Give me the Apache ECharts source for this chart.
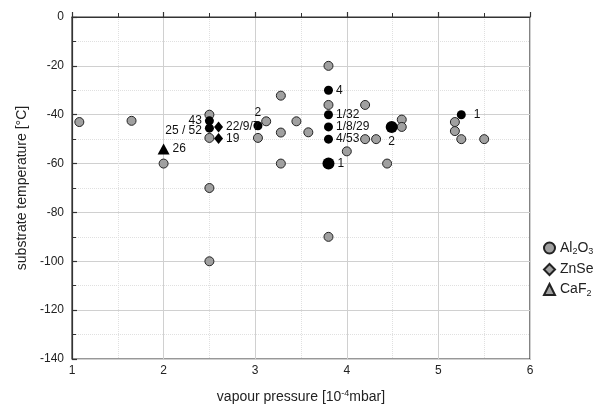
<!DOCTYPE html>
<html><head><meta charset="utf-8">
<script src="https://cdn.jsdelivr.net/npm/echarts@6/dist/echarts.min.js"></script>
<style>html,body{margin:0;padding:0;background:#fff}#c{width:600px;height:412px}</style>
</head><body><div id="c"></div>
<script>
// Al2O3 (grey circles)
var al2o3X = [1.08,1.65,2.0,2.5,2.5,2.5,2.5,3.03,3.12,3.28,3.28,3.28,3.45,3.58,3.8,3.8,3.8,4.2,4.2,4.32,4.0,4.44,4.6,4.6,5.18,5.18,5.25,5.5];
var al2o3Y = [-43,-42.5,-60,-40,-49.5,-70,-100,-49.5,-42.7,-32.2,-47.3,-60,-42.7,-47.2,-20,-36,-90,-36,-50,-50,-55,-60,-42,-45,-43,-46.7,-50,-50];
// black circles (numbered)
var blkX = [2.5,2.5,3.03,3.8,3.8,3.8,3.8,5.25];
var blkY = [-42.5,-45.5,-44.5,-30,-40,-45,-50,-40];
var blkLbl = ['43','25 / 52','2','4','1/32','1/8/29','4/53','1'];
var blkPos = ['left','left','top','right','right','right','right','right'];
// large black circles
var bigX = [3.8,4.49];
var bigY = [-60,-45];
var bigLbl = ['1','2'];
var bigPos = ['right','bottom'];
// black diamonds
var diaX = [2.6,2.6];
var diaY = [-45,-49.7];
var diaLbl = ['22/9/7','19'];
// black triangle
var triX = [2.0];
var triY = [-54];
var triLbl = ['26'];

var xTicks = [1,2,3,4,5,6];
var yMin = -140, yMax = 0;

function pts(xs, ys, lbls, poss){
  return xs.map(function(x,i){
    var d = {value:[x, ys[i]]};
    if (lbls) {
      var p = poss ? poss[i] : 'right';
      d.label = {show:true, formatter:lbls[i], position:p};
      if (lbls[i] === '1' && x > 5) d.label.distance = 8;
      if (lbls[i] === '25 / 52') d.label.offset = [0, 3];
    }
    return d;
  });
}
var font = 'Liberation Sans, Arial, sans-serif';
var lblStyle = {color:'#111', fontSize:12, fontFamily:font, distance:3};
var grey = {color:'#a0a0a0', borderColor:'#222', borderWidth:1, opacity:1};
var blackS = {color:'#000', opacity:1};
var chart = echarts.init(document.getElementById('c'));
chart.setOption({
  animation:false,
  textStyle:{fontFamily:font},
  grid:{left:72, right:70, top:17, bottom:53, show:true, borderColor:'#333', borderWidth:1.2},
  legend:{
    orient:'vertical', left:538, top:236, itemWidth:11, itemHeight:11, itemGap:6,
    textStyle:{fontSize:14, color:'#222', fontFamily:font, rich:{s:{fontSize:9, verticalAlign:'bottom', padding:[8,0,0,0], color:'#222'}}},
    formatter:function(n){ return {Al2O3:'Al{s|2}O{s|3}', ZnSe:'ZnSe', CaF2:'CaF{s|2}'}[n]; },
    data:[{name:'Al2O3', icon:'circle'},{name:'ZnSe', icon:'diamond'},{name:'CaF2', icon:'triangle'}]
  },
  xAxis:{
    type:'value', min:xTicks[0], max:xTicks[xTicks.length-1], interval:1,
    name:'{a|vapour pressure [10}{b|-4}{a|mbar]}', nameLocation:'middle', nameGap:30,
    nameTextStyle:{rich:{a:{fontSize:14,color:'#222',fontFamily:font}, b:{fontSize:9,color:'#222',verticalAlign:'top',padding:[0,0,8,0],fontFamily:font}}},
    axisLine:{lineStyle:{color:'#333', width:1.2}},
    axisTick:{inside:true, length:5, lineStyle:{color:'#333', width:1.2}},
    minorTick:{show:true, splitNumber:2, length:4, lineStyle:{color:'#333'}},
    axisLabel:{color:'#222', fontSize:12, margin:6},
    splitLine:{show:true, lineStyle:{color:'#d0d0d0', width:1}},
    minorSplitLine:{show:true, lineStyle:{color:'#e0e0e0', type:'dotted', width:1}}
  },
  yAxis:{
    type:'value', min:yMin, max:yMax, interval:20,
    name:'substrate temperature [°C]', nameLocation:'middle', nameGap:42,
    nameTextStyle:{fontSize:14, color:'#222', fontFamily:font},
    axisLine:{lineStyle:{color:'#333', width:1.2}},
    axisTick:{inside:true, length:5, lineStyle:{color:'#333', width:1.2}},
    minorTick:{show:true, splitNumber:2, length:4, lineStyle:{color:'#333'}},
    axisLabel:{color:'#222', fontSize:12, margin:8},
    splitLine:{show:true, lineStyle:{color:'#d0d0d0', width:1}},
    minorSplitLine:{show:true, lineStyle:{color:'#e0e0e0', type:'dotted', width:1}}
  },
  series:[
    {name:'Al2O3', type:'scatter', symbol:'circle', symbolSize:9, itemStyle:grey, data:pts(al2o3X, al2o3Y), z:2},
    {name:'ZnSe', type:'scatter', symbol:'diamond', symbolSize:11, itemStyle:grey, data:[]},
    {name:'CaF2', type:'scatter', symbol:'triangle', symbolSize:11, itemStyle:grey, data:[]},
    {name:'blk', type:'scatter', symbol:'circle', symbolSize:9, itemStyle:blackS, label:lblStyle, data:pts(blkX, blkY, blkLbl, blkPos), z:3},
    {name:'big', type:'scatter', symbol:'circle', symbolSize:12, itemStyle:blackS, label:lblStyle, data:pts(bigX, bigY, bigLbl, bigPos), z:3},
    {name:'dia', type:'scatter', symbol:'diamond', symbolSize:[9,11], itemStyle:blackS, label:lblStyle, data:pts(diaX, diaY, diaLbl), z:3},
    {name:'tri', type:'scatter', symbol:'triangle', symbolSize:[12,11], itemStyle:blackS, label:lblStyle, data:pts(triX, triY, triLbl), z:3}
  ]
});
</script>
</body></html>
